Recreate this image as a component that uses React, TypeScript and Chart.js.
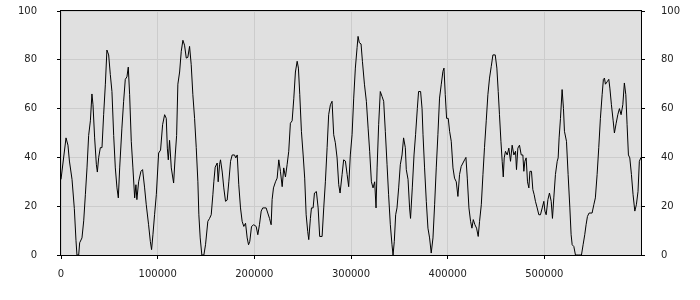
import React, { useEffect, useRef } from 'react';
import { Chart, registerables } from 'chart.js';

Chart.register(...registerables);

const xs = [
  0, 5200, 7200, 8700, 11400, 13800, 15500, 16500, 18300, 19300,
  21700, 23500, 25200, 26900, 28600, 30400, 32000, 33100, 34800, 36600,
  37600, 39000, 40700, 42400, 44100, 45900, 47500, 49300, 51000, 52700,
  54500, 56200, 57900, 59300, 60700, 63000, 64800, 66500, 68200, 69600,
  71000, 72700, 74400, 76200, 77500, 78500, 80300, 82700, 84400, 86500,
  88200, 90600, 92400, 93700, 95100, 96800, 98600, 101000, 103000, 105100,
  107200, 108900, 110000, 111000, 112300, 114100, 116500, 118200, 119600, 120900,
  122700, 124400, 126100, 127800, 129600, 131200, 133000, 134700, 136400, 138200,
  139900, 141600, 142600, 144000, 145700, 147800, 149500, 151900, 153700, 155400,
  157100, 158100, 159500, 161600, 162600, 164000, 165000, 166800, 168400, 170200,
  171900, 173600, 175400, 177100, 179500, 180800, 182300, 183900, 185700, 187400,
  189100, 190900, 192600, 194000, 195300, 197100, 199400, 201900, 203600, 205300,
  207100, 208700, 212200, 213900, 215700, 217400, 218400, 219800, 221900, 223600,
  225300, 227000, 228800, 230400, 232200, 233900, 235600, 237300, 239100, 240800,
  242500, 244300, 245600, 247000, 248700, 250500, 252100, 253600, 255200, 256300,
  258000, 259100, 260800, 262200, 264200, 266000, 267600, 270100, 271800, 273500,
  275300, 276900, 278700, 280400, 282100, 283800, 285600, 287300, 288700, 290800,
  292400, 294200, 296000, 297600, 299300, 301100, 302800, 304500, 306300, 307300,
  308600, 310400, 311800, 313900, 315900, 317700, 319300, 321100, 322800, 324500,
  325900, 327000, 328600, 330300, 332100, 333800, 335500, 337300, 338900, 340700,
  342400, 343500, 344800, 346200, 347600, 349300, 351000, 352800, 354400, 356200,
  357200, 359000, 360600, 361600, 363400, 365200, 366800, 368600, 369900, 372000,
  373500, 374500, 376100, 377900, 379600, 381300, 383000, 384800, 386500, 388200,
  389900, 391600, 393400, 395100, 396200, 397500, 398900, 400600, 402000, 403700,
  405500, 407100, 408900, 410600, 412300, 414000, 415800, 417500, 418900, 420300,
  422000, 423700, 425100, 426500, 428200, 429900, 431600, 433000, 434800, 436500,
  438100, 439900, 441600, 443300, 445100, 446800, 449200, 450900, 452300, 453600,
  455100, 456400, 457500, 458500, 459800, 461600, 463300, 465000, 466700, 468500,
  470200, 471200, 472600, 474300, 476100, 477800, 478800, 479900, 481200, 482600,
  484000, 485100, 486700, 488100, 489500, 490800, 492600, 494300, 496000, 497800,
  499500, 500600, 501900, 503700, 505300, 507100, 508400, 509800, 511500, 513300,
  514300, 515300, 516700, 518400, 519800, 520800, 522900, 524600, 526400, 527700,
  528800, 530500, 532200, 535700, 538400, 540100, 541800, 543200, 544600, 546300,
  549400, 551200, 552800, 554600, 556300, 558000, 559800, 561100, 562200, 563200,
  565000, 566700, 567800, 569400, 571200, 572500, 574300, 576000, 577700, 579400,
  581200, 582800, 584300, 585600, 587000, 588400, 590100, 591800, 593600, 595200,
  596900, 598300, 600000,
];

const ys = [
  31, 48, 45, 38.5, 31, 19, 6, 0, 0, 5,
  7, 14, 24.7, 35.7, 49, 55, 66, 61.6, 48, 37,
  34, 40, 44, 44, 57.5, 70, 84, 82, 74, 67,
  49, 35.7, 27.5, 23.4, 35.7, 52, 63, 72, 73, 77,
  65.7, 46.6, 35.7, 23.4, 28.8, 22.7, 30, 34.3, 35, 27.5,
  20.6, 12.4, 5.6, 2.2, 8.3, 16.5, 24.7, 41.8, 43, 53.4,
  57.5, 56, 43.8, 39, 47, 35.7, 29.5, 41, 49, 70,
  75, 83.5, 88, 86, 80.7, 81, 85.5, 78, 65.7, 56,
  44, 30, 16.5, 7, 0, 0, 4.2, 13.8, 15, 16.5,
  24.7, 30, 36, 37.7, 30, 37, 39, 34, 27.5, 22,
  22.5, 30, 38.4, 41, 41, 39.8, 41, 28.8, 19.3, 13.8,
  11.7, 13, 7, 4.2, 5.6, 11.7, 12.4, 11.7, 8.3, 12.4,
  18, 19.3, 19.3, 17.2, 15, 12.4, 22.7, 27.5, 30, 31.5,
  39, 34.3, 28, 35.7, 32, 37, 42.5, 54, 55, 64,
  75, 79.4, 76.6, 65.7, 50.7, 41, 31.5, 16.5, 9.7, 6.3,
  15, 19.3, 19.3, 25.4, 26, 19.3, 7.6, 7.6, 19.3, 30,
  44, 57.5, 61.6, 63, 49.3, 46, 39.8, 28.8, 25.4, 33,
  39, 38.5, 33, 28, 41, 49.3, 64.3, 76.6, 85, 89.6,
  87, 86.5, 79.4, 70, 63, 52, 42.5, 30, 27.5, 30,
  19.3, 35.7, 53.4, 67, 65, 63, 50.7, 37, 24.7, 12.4,
  4.2, 0, 5.6, 16.5, 19.3, 27.5, 37, 41, 48, 44,
  35, 31, 19.3, 15, 27.5, 41, 49.3, 60, 67, 67,
  60, 49.3, 35.7, 22, 11, 7, 0.8, 7, 20.6, 35.7,
  49.3, 64.3, 70, 75.3, 76.6, 65.7, 56, 56, 50.7, 46.6,
  35.7, 31.5, 30, 24, 33, 36.3, 37.7, 39, 40, 31.5,
  19.3, 13.8, 11, 14.5, 12.4, 11, 7.6, 13.8, 20.6, 33,
  44, 55, 65.7, 72.5, 77.3, 82, 82, 76.6, 67, 57.5,
  46.6, 38.4, 32, 39.8, 42.5, 41, 43.8, 38.4, 45, 41,
  42.5, 35, 43.8, 45, 41, 41, 34.3, 38.4, 39.8, 30,
  27.5, 34.3, 34.3, 26.8, 24.7, 22, 19.3, 16.5, 16.5, 19.3,
  22, 18, 16.5, 22.7, 25.4, 22, 15, 23.4, 33, 38.4,
  39.8, 48, 56, 67.8, 60, 50.7, 46.6, 33, 19.3, 8.3,
  4.2, 3.5, 0, 0, 0, 4.2, 8.3, 12.4, 15.8, 17.2,
  17.2, 20.6, 23.4, 33, 44, 56, 65.7, 72, 72.5, 70,
  71, 72, 68.4, 61.6, 55, 50, 54, 57.5, 60, 57.5,
  61.6, 70.5, 65.7, 53.4, 41, 39.8, 33, 24.7, 18, 20.6,
  26, 38.4, 40,
];

const xTicks = [0, 100000, 200000, 300000, 400000, 500000];
const yTicks = [0, 20, 40, 60, 80, 100];

const plotBg = {
  id: 'plotBg',
  beforeDraw(chart: any) {
    const { ctx, chartArea: a } = chart;
    ctx.save();
    ctx.fillStyle = '#e0e0e0';
    ctx.fillRect(a.left, a.top, a.right - a.left, a.bottom - a.top);
    ctx.restore();
  },
  afterDraw(chart: any) {
    const { ctx, chartArea: a } = chart;
    ctx.save();
    ctx.strokeStyle = '#000';
    ctx.lineWidth = 1;
    ctx.strokeRect(Math.round(a.left) - 0.5, Math.round(a.top) - 0.5, Math.round(a.right - a.left) + 1, Math.round(a.bottom - a.top) + 1);
    ctx.restore();
  },
};

export default function App() {
  const ref = useRef<HTMLCanvasElement>(null);
  useEffect(() => {
    document.body.style.margin = '0';
    const n = Math.min(xs.length, ys.length);
    const pts = [] as { x: number; y: number }[];
    for (let i = 0; i < n; i++) pts.push({ x: xs[i], y: ys[i] });
    const font = { family: 'DejaVu Sans', size: 10 };
    const textColor = '#222';
    const gridColor = '#cccccc';
    const fitY = (w: number) => (s: any) => {
      s.width = w;
      s.paddingTop = 0;
      s.paddingBottom = 0;
    };
    const chart = new Chart(ref.current as HTMLCanvasElement, {
      type: 'line',
      data: {
        datasets: [
          {
            data: pts,
            borderColor: '#000',
            borderWidth: 1,
            pointRadius: 0,
            tension: 0,
            fill: false,
            yAxisID: 'y',
          },
        ],
      },
      options: {
        animation: false,
        responsive: false,
        devicePixelRatio: 1,
        layout: { padding: { top: 11, left: 0, right: 0, bottom: 0 } },
        plugins: { legend: { display: false }, tooltip: { enabled: false } },
        scales: {
          x: {
            type: 'linear',
            min: 0,
            max: 600000,
            afterBuildTicks: (s: any) => {
              s.ticks = xTicks.map((v) => ({ value: v }));
            },
            afterFit: (s: any) => {
              s.height = 45;
              s.paddingLeft = 0;
              s.paddingRight = 0;
            },
            ticks: {
              font,
              color: textColor,
              padding: 9,
              maxRotation: 0,
              autoSkip: false,
              callback: (v: any) => String(v),
            },
            grid: { color: gridColor, tickColor: '#000', tickLength: 4 },
            border: { display: false },
          },
          y: {
            type: 'linear',
            position: 'left',
            min: 0,
            max: 100,
            afterBuildTicks: (s: any) => {
              s.ticks = yTicks.map((v) => ({ value: v }));
            },
            afterFit: fitY(61),
            ticks: { font, color: textColor, padding: 20, autoSkip: false },
            grid: { color: gridColor, tickColor: '#000', tickLength: 4 },
            border: { display: false },
          },
          y2: {
            type: 'linear',
            position: 'right',
            display: true,
            min: 0,
            max: 100,
            afterBuildTicks: (s: any) => {
              s.ticks = yTicks.map((v) => ({ value: v }));
            },
            afterFit: fitY(59),
            ticks: { font, color: textColor, padding: 16, autoSkip: false },
            grid: { drawOnChartArea: false, color: gridColor, tickColor: '#000', tickLength: 4 },
            border: { display: false },
          },
        },
      },
      plugins: [plotBg],
    });
    return () => chart.destroy();
  }, []);
  return (
    <div style={{ width: 700, height: 300 }}>
      <canvas ref={ref} width={700} height={300} style={{ display: 'block' }} />
    </div>
  );
}
